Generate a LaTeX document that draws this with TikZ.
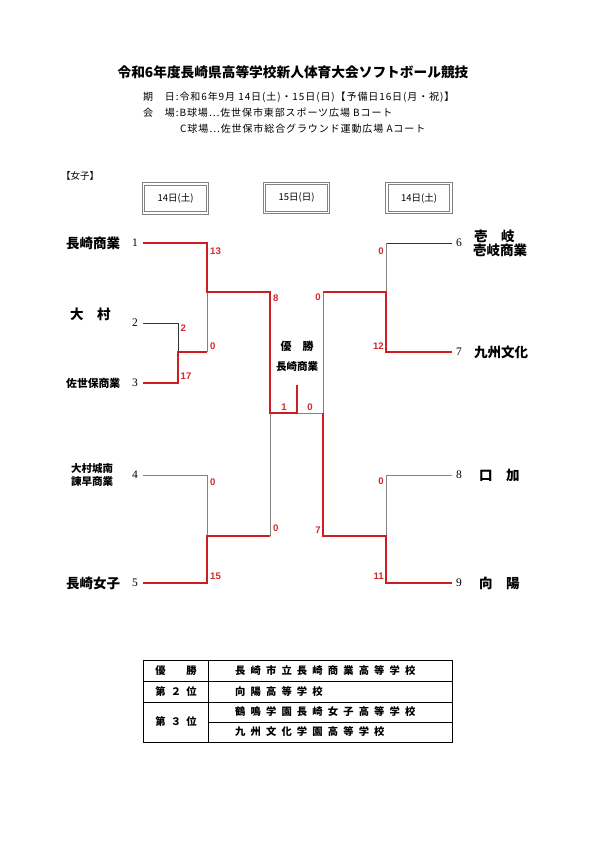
\documentclass[tikz,border=0pt]{standalone}
\usepackage{fontspec}
\setmainfont{Liberation Serif}
\newfontfamily\jp{Noto Sans CJK JP}
\newfontfamily\jph{Noto Sans CJK JP}[LetterSpace=9]
\newfontfamily\jpls{Noto Sans CJK JP}[LetterSpace=50]
\newfontfamily\scf{Liberation Sans}
\definecolor{wred}{RGB}{205,30,35}
\definecolor{sred}{RGB}{210,40,45}
\definecolor{lgray}{RGB}{130,130,130}
\begin{document}
\begin{tikzpicture}[x=1pt,y=-1pt,
  win/.style={draw=wred,line width=1.8pt},
  lose/.style={draw=lgray,line width=0.8pt},
  loseb/.style={draw=black!80,line width=0.8pt},
  score/.style={text=sred,font=\scf\bfseries\fontsize{9.6}{10}\selectfont,inner sep=0pt},
  seed/.style={font=\fontsize{11.5}{12}\selectfont,inner sep=0pt},
  team/.style={font=\jp\bfseries\fontsize{13.5}{14}\selectfont,inner sep=0pt,anchor=west},
  teams/.style={font=\jp\bfseries\fontsize{10.8}{12}\selectfont,inner sep=0pt,anchor=west,align=left},
  hdr/.style={font=\jph\fontsize{10}{11}\selectfont,inner sep=0pt,anchor=west},
  daybox/.style={draw=lgray,double=white,double distance=1.2pt,line width=1pt,minimum width=64pt,minimum height=29pt,font=\jp\fontsize{9.5}{10}\selectfont,inner sep=0pt},
  tbl/.style={font=\jpls\bfseries\fontsize{10.3}{11}\selectfont,inner sep=0pt}]
\useasboundingbox (0,0) rectangle (595,842);
% title and header
\node[font=\jp\bfseries\fontsize{13.7}{15}\selectfont,inner sep=0pt] (title) at (293,72) {令和6年度長崎県高等学校新人体育大会ソフトボール競技};
\node[hdr] (h1) at (143,97) {期　日:令和6年9月 14日(土)・15日(日)【予備日16日(月・祝)】};
\node[hdr] (h2) at (143,113) {会　場:B球場…佐世保市東部スポーツ広場 Bコート};
\node[hdr] (h3) at (180,129) {C球場…佐世保市総合グラウンド運動広場 Aコート};
\node[font=\jp\fontsize{9.5}{10}\selectfont,inner sep=0pt,anchor=west] (cat) at (61,176) {【女子】};
% day boxes
\node[daybox] (d1) at (175.5,198.5) {14日(土)};
\node[daybox] (d2) at (296.5,198) {15日(日)};
\node[daybox] (d3) at (419,198) {14日(土)};
% left teams
\node[team] (t1) at (66,243) {長崎商業};
\node[team] (t2) at (70,314) {大　村};
\node[teams] (t3) at (66,383) {佐世保商業};
\node[teams,font=\jp\bfseries\fontsize{10.5}{12.5}\selectfont] (t4) at (71,475) {大村城南\\諫早商業};
\node[team] (t5) at (66,583) {長崎女子};
% right teams
\node[team,font=\jp\bfseries\fontsize{13.5}{12.5}\selectfont,align=left] (t6) at (473,243.5) {\hspace{1pt}壱　岐\\壱岐商業};
\node[team] (t7) at (474,352) {九州文化};
\node[team] (t8) at (479,475) {口　加};
\node[team] (t9) at (479,583) {向　陽};
% seeds
\node[seed,anchor=east] (s1) at (138,243) {1};
\node[seed,anchor=east] (s2) at (138,323) {2};
\node[seed,anchor=east] (s3) at (138,383) {3};
\node[seed,anchor=east] (s4) at (138,475) {4};
\node[seed,anchor=east] (s5) at (138,583) {5};
\node[seed,anchor=west] (s6) at (456,243) {6};
\node[seed,anchor=west] (s7) at (456,352) {7};
\node[seed,anchor=west] (s8) at (456,475) {8};
\node[seed,anchor=west] (s9) at (456,583) {9};
% joints
\coordinate (a1) at (143,243); \coordinate (a2) at (143,323); \coordinate (a3) at (143,383);
\coordinate (a4) at (143,475); \coordinate (a5) at (143,583);
\coordinate (b6) at (452,243); \coordinate (b7) at (452,352); \coordinate (b8) at (452,475); \coordinate (b9) at (452,583);
\coordinate (q23) at (178,352); \coordinate (ql1) at (207,292); \coordinate (ql2) at (207,536);
\coordinate (sl1) at (270,292); \coordinate (sl2) at (270,536);
\coordinate (fl) at (270,413); \coordinate (fm) at (297,413); \coordinate (fr) at (323,413); \coordinate (ft) at (297,385);
\coordinate (qr1) at (386,292); \coordinate (qr2) at (386,536);
\coordinate (sr1) at (323,292); \coordinate (sr2) at (323,536);
% losing lines
\draw[loseb] (a2) -| (q23);
\draw[lose] (207,352) -- (ql1);
\draw[lose] (a4) -| (ql2);
\draw[lose] (sl2) -- (fl);
\draw[lose] (fm) -- (fr) -- (sr1);
\draw[loseb] (b6) -- (386,243);
\draw[lose] (386,243) -- (qr1);
\draw[lose] (b8) -| (qr2);
% winning lines
\draw[win] (a1) -| (ql1) -| (fl) -- (fm) -- (ft);
\draw[win] (a3) -| (q23) -- (207,352);
\draw[win] (a5) -| (ql2) -- (sl2);
\draw[win] (b7) -| (qr1) -- (sr1);
\draw[win] (b9) -| (qr2) -- (sr2) -- (fr);
% scores
\node[score,anchor=west] (c1) at (210,251) {13};
\node[score,anchor=west] (c2) at (180.5,328) {2};
\node[score,anchor=west] (c3) at (180.5,376) {17};
\node[score,anchor=west] (c4) at (210,346) {0};
\node[score,anchor=west] (c5) at (273,298) {8};
\node[score,anchor=west] (c6) at (210,482) {0};
\node[score,anchor=west] (c7) at (210,576) {15};
\node[score,anchor=west] (c8) at (273,528) {0};
\node[score] (c9) at (284,407) {1};
\node[score] (c10) at (310,407) {0};
\node[score,anchor=east] (c11) at (384,251) {0};
\node[score,anchor=east] (c12) at (384,346) {12};
\node[score,anchor=east] (c13) at (321,297) {0};
\node[score,anchor=east] (c14) at (384,481) {0};
\node[score,anchor=east] (c15) at (384,576) {11};
\node[score,anchor=east] (c16) at (321,530) {7};
% champion
\node[font=\jp\bfseries\fontsize{11}{12}\selectfont,inner sep=0pt] (ch1) at (297,346) {優　勝};
\node[font=\jp\bfseries\fontsize{10.5}{12}\selectfont,inner sep=0pt] (ch2) at (297,367) {長崎商業};
% result table
\draw[line width=0.9pt] (143,660) rectangle (452,742);
\draw[line width=0.8pt] (208,660) -- (208,742);
\draw[line width=0.8pt] (143,681) -- (452,681);
\draw[line width=0.8pt] (143,702) -- (452,702);
\draw[line width=0.8pt] (208,722) -- (452,722);
\node[tbl] (r1) at (176,670.5) {優　勝};
\node[tbl] (r2) at (176,691.5) {第２位};
\node[tbl] (r3) at (176,722) {第３位};
\node[tbl,anchor=west] (n1) at (235,670.5) {長崎市立長崎商業高等学校};
\node[tbl,anchor=west] (n2) at (235,691.5) {向陽高等学校};
\node[tbl,anchor=west] (n3) at (235,712) {鶴鳴学園長崎女子高等学校};
\node[tbl,anchor=west] (n4) at (235,732) {九州文化学園高等学校};
\end{tikzpicture}
\end{document}
